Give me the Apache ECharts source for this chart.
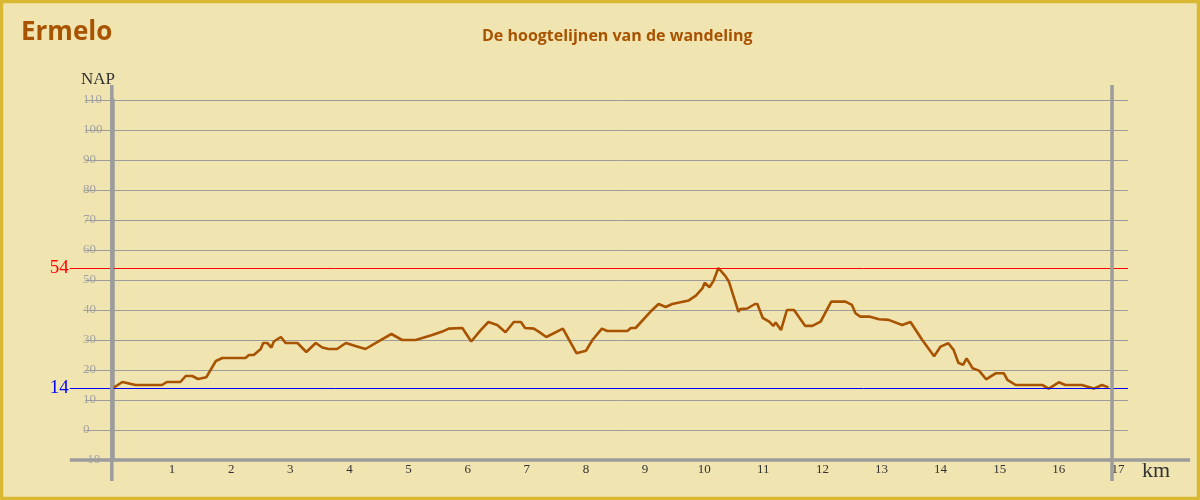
<!DOCTYPE html>
<html><head><meta charset="utf-8">
<script src="https://cdn.jsdelivr.net/npm/echarts@6/dist/echarts.min.js"></script>
<style>html,body{margin:0;padding:0;background:#f0e4b1}#c{width:1200px;height:500px}</style>
</head><body><div id="c"></div>
<script>
const titleText = 'Ermelo';
const subtitleText = 'De hoogtelijnen van de wandeling';
const kmValues = [0.00,0.16,0.38,0.83,0.91,1.14,1.23,1.34,1.44,1.58,1.65,1.74,1.85,2.24,2.30,2.38,2.50,2.54,2.61,2.68,2.72,2.84,2.92,3.12,3.27,3.43,3.54,3.65,3.79,3.94,4.10,4.27,4.55,4.71,4.89,5.12,5.40,5.57,5.68,5.91,6.06,6.22,6.35,6.50,6.64,6.78,6.90,6.97,7.12,7.20,7.33,7.61,7.84,8.00,8.11,8.27,8.36,8.70,8.76,8.84,9.09,9.23,9.35,9.46,9.74,9.86,9.97,10.01,10.09,10.16,10.24,10.36,10.42,10.58,10.61,10.73,10.86,10.90,10.99,11.10,11.17,11.21,11.30,11.40,11.52,11.71,11.83,11.97,12.15,12.39,12.50,12.56,12.64,12.79,12.96,13.12,13.35,13.49,13.69,13.89,14.00,14.13,14.22,14.30,14.38,14.44,14.54,14.65,14.77,14.93,15.07,15.13,15.27,15.72,15.83,16.00,16.11,16.39,16.59,16.73,16.84];
const heightValues = [14,16,15,15,16,16,18,18,17,17.6,20,23,24,24,25,25,27,29,29,27.5,29.5,31,29,29,26,29,27.5,27,27,29,28,27,30.2,32,30,30,31.7,32.8,33.8,34,29.5,33.3,36,35,32.6,36,36,34,33.8,32.8,31,33.8,25.6,26.4,30,33.8,33,33,34,34,39.4,42,41,42,43.2,44.8,47.2,49.1,47.6,49.8,54,51.3,49.4,39.4,40.3,40.5,42,42,37.4,36.1,34.7,35.8,33.3,40,40,34.7,34.7,36.1,42.8,42.8,41.7,38.9,37.8,37.8,36.9,36.7,35,36,30,24.6,27.8,28.9,26.7,22.4,21.7,23.9,20.6,19.8,16.9,18.9,18.9,16.7,15,15,13.8,15.9,15,15,13.8,15,14.2];
const maxHeight = 54;
const minHeight = 14;
const yMin = -10, yMax = 110, yStep = 10;
const xMin = 0, xMax = 17.17, xStep = 1;
const routeEnd = 16.9;
const yAxisName = 'NAP';
const xAxisName = 'km';

const serif = '"Liberation Serif", serif';
const chart = echarts.init(document.getElementById('c'), null, {renderer: 'canvas'});
const pts = kmValues.map((k, i) => [k, heightValues[i]]);
const gray = '#9c9c9c';
chart.setOption({
  animation: false,
  backgroundColor: '#f0e4b1',
  title: [
    {text: titleText, left: 16, top: 15, textStyle: {fontFamily: '"Open Sans", sans-serif', fontWeight: 'bold', fontSize: 26, color: '#a85300'}},
    {text: subtitleText, left: 477, top: 23, textStyle: {fontFamily: '"Open Sans", sans-serif', fontWeight: 'bold', fontSize: 16, color: '#a85300'}}
  ],
  grid: {left: 113, right: 72, top: 100, bottom: 40},
  xAxis: {
    type: 'value', min: xMin, max: xMax, interval: xStep,
    name: xAxisName, nameLocation: 'end', nameGap: 14,
    nameTextStyle: {fontFamily: serif, fontSize: 22, color: '#333', verticalAlign: 'top', align: 'left'},
    axisLine: {show: false, onZero: false}, axisTick: {show: false}, splitLine: {show: false},
    axisLabel: {margin: 3, fontFamily: serif, fontSize: 13, color: '#333',
      formatter: v => (v > 0 && Math.abs(v - Math.round(v)) < 1e-9) ? String(Math.round(v)) : ''}
  },
  yAxis: {
    type: 'value', min: yMin, max: yMax, interval: yStep,
    name: yAxisName, nameLocation: 'end', nameGap: 12,
    nameTextStyle: {fontFamily: serif, fontSize: 17, color: '#333', align: 'right', padding: [0, -2, 0, 0]},
    axisLine: {show: true, lineStyle: {color: gray, width: 3.5}},
    axisTick: {show: false},
    axisLabel: {margin: 30, align: 'left', fontFamily: serif, fontSize: 13, color: '#a3a3a3'},
    splitLine: {show: true, lineStyle: {color: gray, width: 1}}
  },
  series: [{
    type: 'line', data: pts, showSymbol: false, symbol: 'none',
    lineStyle: {color: '#a85300', width: 2.6}, z: 5
  }]
});

// Reference lines & extended axes, positioned through the chart's own scales
const P = (x, y) => chart.convertToPixel({gridIndex: 0}, [x, y]);
const leftX = -0.73, tickStart = -0.47, farRight = 18.22, lineTop = 115, lineBottom = -17;
const crisp = v => Math.round(v - 0.5) + 0.5;
function hLine(x1, x2, y, color, w, z, sharp) {
  const a = P(x1, y), b = P(x2, y);
  const yy = sharp ? crisp(a[1]) : a[1];
  return {type: 'line', shape: {x1: a[0], y1: yy, x2: b[0], y2: yy}, style: {stroke: color, lineWidth: w}, z: z || 10, silent: true};
}
function vLine(x, y1, y2, color, w) {
  const a = P(x, y1), b = P(x, y2);
  return {type: 'line', shape: {x1: a[0], y1: a[1], x2: b[0], y2: b[1]}, style: {stroke: color, lineWidth: w}, z: 10, silent: true};
}
function lbl(text, x, y, color) {
  const a = P(x, y);
  return {type: 'text', x: a[0] - 1, y: a[1], style: {text: text, fill: color, font: '19px ' + serif, align: 'right', verticalAlign: 'middle'}, z: 11, silent: true};
}
const ticks = [];
for (let v = yMin; v <= yMax; v += yStep) ticks.push(hLine(tickStart, 0, v, gray, 1, 1, true));
chart.setOption({
  graphic: ticks.concat([
    {type: 'rect', shape: {x: 1.5, y: 1.5, width: 1197, height: 497}, style: {fill: null, stroke: '#d9b834', lineWidth: 3.5}, z: 100, silent: true},
    hLine(leftX, xMax, maxHeight, '#ff0000', 1, 10, true),
    hLine(leftX, xMax, minHeight, '#0000ff', 1, 10, true),
    lbl(String(maxHeight), leftX, maxHeight, '#ff0000'),
    lbl(String(minHeight), leftX, minHeight, '#0000ff'),
    vLine(-0.02, lineTop, lineBottom, gray, 3.5),
    vLine(routeEnd, lineTop, lineBottom, gray, 3.5),
    hLine(leftX, farRight, yMin, gray, 3.5, 12)
  ])
});
</script></body></html>
